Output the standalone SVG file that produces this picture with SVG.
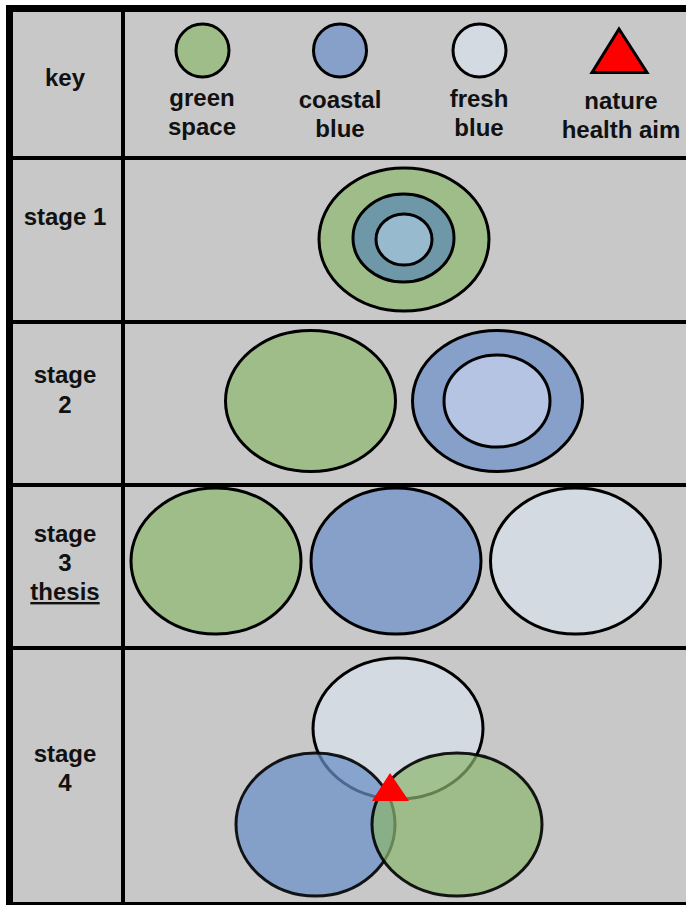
<svg xmlns="http://www.w3.org/2000/svg" width="686" height="905" viewBox="0 0 686 905">
<style>
.t{font-family:"Liberation Sans",Arial,sans-serif;font-weight:bold;font-size:24px;fill:#111;text-anchor:middle}
.e{stroke:#000;stroke-width:3}
.g{fill:#9fbd88}
.cb{fill:#86a0c9}
.fb{fill:#d4dae2}
.ln{stroke:#000;fill:none}
</style>
<rect x="0" y="0" width="686" height="905" fill="#fff"/>
<rect x="6" y="5" width="680" height="900" fill="#c8c8c8"/>
<g id="grid">
<line class="ln" x1="6" y1="8.5" x2="686" y2="8.5" stroke-width="7"/>
<line class="ln" x1="9.5" y1="5" x2="9.5" y2="905" stroke-width="7"/>
<line class="ln" x1="6" y1="903.5" x2="686" y2="903.5" stroke-width="3"/>
<line class="ln" x1="123" y1="12" x2="123" y2="905" stroke-width="4"/>
<line class="ln" x1="6" y1="158" x2="686" y2="158" stroke-width="4"/>
<line class="ln" x1="6" y1="322" x2="686" y2="322" stroke-width="4"/>
<line class="ln" x1="6" y1="485" x2="686" y2="485" stroke-width="4"/>
<line class="ln" x1="6" y1="648" x2="686" y2="648" stroke-width="4"/>
</g>
<g id="labels">
<text class="t" x="65" y="86">key</text>
<text class="t" x="65" y="225">stage 1</text>
<text class="t" x="65" y="383">stage</text>
<text class="t" x="65" y="413">2</text>
<text class="t" x="65" y="542">stage</text>
<text class="t" x="65" y="571">3</text>
<text class="t" x="65" y="600" text-decoration="underline">thesis</text>
<text class="t" x="65" y="762">stage</text>
<text class="t" x="65" y="791">4</text>
</g>
<g id="key-green">
<circle class="e g" cx="202.5" cy="50.5" r="26.5"/>
<text class="t" x="202" y="106">green</text>
<text class="t" x="202" y="135">space</text>
</g>
<g id="key-coastal">
<circle class="e cb" cx="340" cy="50.5" r="26.5"/>
<text class="t" x="340" y="108">coastal</text>
<text class="t" x="340" y="137">blue</text>
</g>
<g id="key-fresh">
<circle class="e fb" cx="479.5" cy="50.5" r="26.5"/>
<text class="t" x="479" y="107">fresh</text>
<text class="t" x="479" y="136">blue</text>
</g>
<g id="key-aim">
<polygon points="619,29 592,72.5 647,72.5" fill="#ff0000" stroke="#000" stroke-width="3" stroke-linejoin="miter"/>
<text class="t" x="621" y="109">nature</text>
<text class="t" x="621" y="138">health aim</text>
</g>
<g id="stage1">
<ellipse class="e g" cx="404" cy="239.5" rx="85" ry="71.5"/>
<ellipse class="e" cx="403.5" cy="238" rx="50.5" ry="44" fill="#6e97a8"/>
<ellipse class="e" cx="404" cy="239.5" rx="28" ry="25.5" fill="#98bacf"/>
</g>
<g id="stage2">
<ellipse class="e g" cx="310.5" cy="401" rx="85" ry="70.5"/>
<ellipse class="e cb" cx="497.5" cy="401" rx="85" ry="70.5"/>
<ellipse class="e" cx="497" cy="401" rx="53" ry="46" fill="#b4c4e2"/>
</g>
<g id="stage3">
<ellipse class="e g" cx="216" cy="561" rx="85" ry="73"/>
<ellipse class="e cb" cx="396" cy="561" rx="85" ry="73"/>
<ellipse class="e fb" cx="575.5" cy="561" rx="85" ry="73"/>
</g>
<g id="stage4">
<ellipse class="e fb" cx="398" cy="728.5" rx="85" ry="70.5"/>
<ellipse class="e" cx="315.5" cy="824.5" rx="79.5" ry="71.5" fill="#6a8fc8" fill-opacity="0.72" stroke-opacity="0.9"/>
<ellipse class="e" cx="457" cy="824.5" rx="85" ry="71.5" fill="#8bb76d" fill-opacity="0.7" stroke-opacity="0.9"/>
<polygon points="390,773 372,801 409,801" fill="#ff0000"/>
</g>
</svg>
